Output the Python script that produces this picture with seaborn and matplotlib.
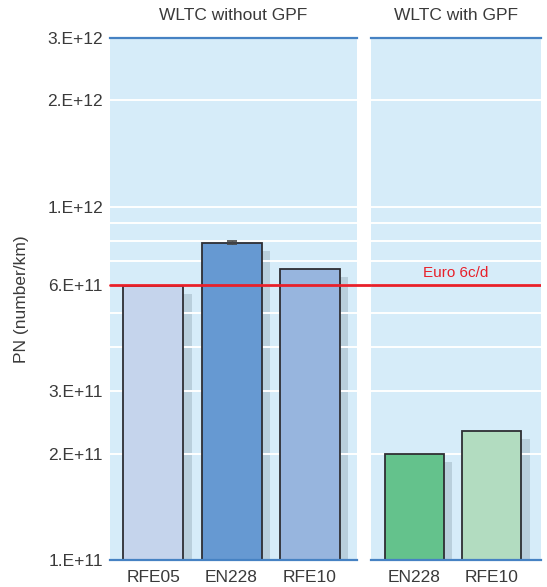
import numpy as np
import pandas as pd
import seaborn as sns
import matplotlib
matplotlib.use("Agg")
import matplotlib.pyplot as plt
from matplotlib.ticker import FixedLocator, FixedFormatter, NullFormatter
from matplotlib.transforms import offset_copy

# Particle number emissions per fuel, WLTC cycle
fuels_no_gpf = ["RFE05", "EN228", "RFE10"]
pn_no_gpf = [5.95e11, 7.9e11, 6.65e11]
err_no_gpf = [0.0, 0.08e11, 0.0]
colors_no_gpf = ["#C5D4EC", "#6699D2", "#97B5DE"]

fuels_gpf = ["EN228", "RFE10"]
pn_gpf = [2.0e11, 2.32e11]
err_gpf = [0.0, 0.0]
colors_gpf = ["#64C28C", "#B2DCC0"]

panel_titles = ["WLTC without GPF", "WLTC with GPF"]
euro_limit = 6.0e11
euro_label = "Euro 6c/d"

ytick_vals = [1e11, 2e11, 3e11, 6e11, 1e12, 2e12, 3e12]
ytick_labels = ["1.E+11", "2.E+11", "3.E+11", "6.E+11", "1.E+12", "2.E+12", "3.E+12"]
grid_minor = [4e11, 5e11, 7e11, 8e11, 9e11]

sns.set_theme(style="white")
plt.rcParams["font.family"] = ["Liberation Sans", "DejaVu Sans"]
text_color = "#3A3A3A"
bg_color = "#D6ECF9"
edge_blue = "#4682C3"
shadow_color = "#B9CFDC"
red = "#E8202A"

fig = plt.figure(figsize=(5.47, 5.87), dpi=100)
W, H = 547, 587
ax1 = fig.add_axes([110 / W, 1 - 560 / H, 247 / W, 522 / H])
ax2 = fig.add_axes([371 / W, 1 - 560 / H, 170 / W, 522 / H])


def draw_panel(ax, fuels, values, errs, colors, title, xlim):
    ax.set_yscale("log")
    ax.set_ylim(1e11, 3e12)
    df = pd.DataFrame({"fuel": fuels, "pn": values})
    pal = dict(zip(fuels, colors))
    # drop shadows, offset down-right
    sns.barplot(data=df, x="fuel", y="pn", hue="fuel",
                palette={f: shadow_color for f in fuels},
                legend=False, ax=ax, width=0.765, errorbar=None, saturation=1,
                linewidth=0)
    n_shadow = len(ax.patches)
    for p in ax.patches[:n_shadow]:
        p.set_transform(offset_copy(ax.transData, fig=fig, x=8.5, y=-8, units="dots"))
        p.set_zorder(0.3)
    sns.barplot(data=df, x="fuel", y="pn", hue="fuel", palette=pal, legend=False, ax=ax,
                width=0.765, errorbar=None, saturation=1, edgecolor="#2E2E33",
                linewidth=1.3)
    for p in ax.patches[n_shadow:]:
        p.set_zorder(2)
    xs = np.arange(len(fuels))
    for x, v, e in zip(xs, values, errs):
        if e > 0:
            ax.errorbar(x, v, yerr=e, color="#444444", capsize=3.6, capthick=1.2,
                        elinewidth=1.0, zorder=3)
    ax.set_xlim(*xlim)
    ax.set_ylim(1e11, 3e12)
    ax.set_facecolor(bg_color)
    ax.set_axisbelow(True)
    for s in ["left", "right"]:
        ax.spines[s].set_visible(False)
    for s in ["top", "bottom"]:
        ax.spines[s].set_color(edge_blue)
        ax.spines[s].set_linewidth(1.6)
        ax.spines[s].set_zorder(4)
    ax.set_xlabel("")
    ax.set_ylabel("")
    ax.tick_params(axis="x", length=0, labelsize=12.5, colors=text_color, pad=7)
    ax.yaxis.set_major_locator(FixedLocator(ytick_vals))
    ax.yaxis.set_major_formatter(FixedFormatter(ytick_labels))
    ax.yaxis.set_minor_locator(FixedLocator(grid_minor))
    ax.yaxis.set_minor_formatter(NullFormatter())
    ax.tick_params(axis="y", which="both", length=0)
    ax.set_title(title, fontsize=12.5, color=text_color, pad=13)
    ax.grid(axis="y", which="both", color="white", linewidth=1.4)
    ax.grid(axis="x", visible=False)


draw_panel(ax1, fuels_no_gpf, pn_no_gpf, err_no_gpf, colors_no_gpf, panel_titles[0], (-0.55, 2.6))
draw_panel(ax2, fuels_gpf, pn_gpf, err_gpf, colors_gpf, panel_titles[1], (-0.56, 1.64))

ax1.tick_params(axis="y", labelsize=12.5, colors=text_color, pad=5)
ax2.tick_params(axis="y", which="both", labelleft=False)
ax1.set_ylabel("PN (number/km)", fontsize=12.5, color=text_color, labelpad=13)

# regulatory limit spanning both panels and the gap between them
ax1.axhline(euro_limit, xmin=0, xmax=(371 - 110) / 247, color=red, linewidth=2.0,
            clip_on=False, zorder=5)
ax2.axhline(euro_limit, color=red, linewidth=2.0, zorder=5)
ax2.text(0.5, euro_limit * 1.035, euro_label, transform=ax2.get_yaxis_transform(),
         ha="center", va="bottom", fontsize=11, color=red)

fig.savefig("out.png", dpi=100, facecolor="white")
